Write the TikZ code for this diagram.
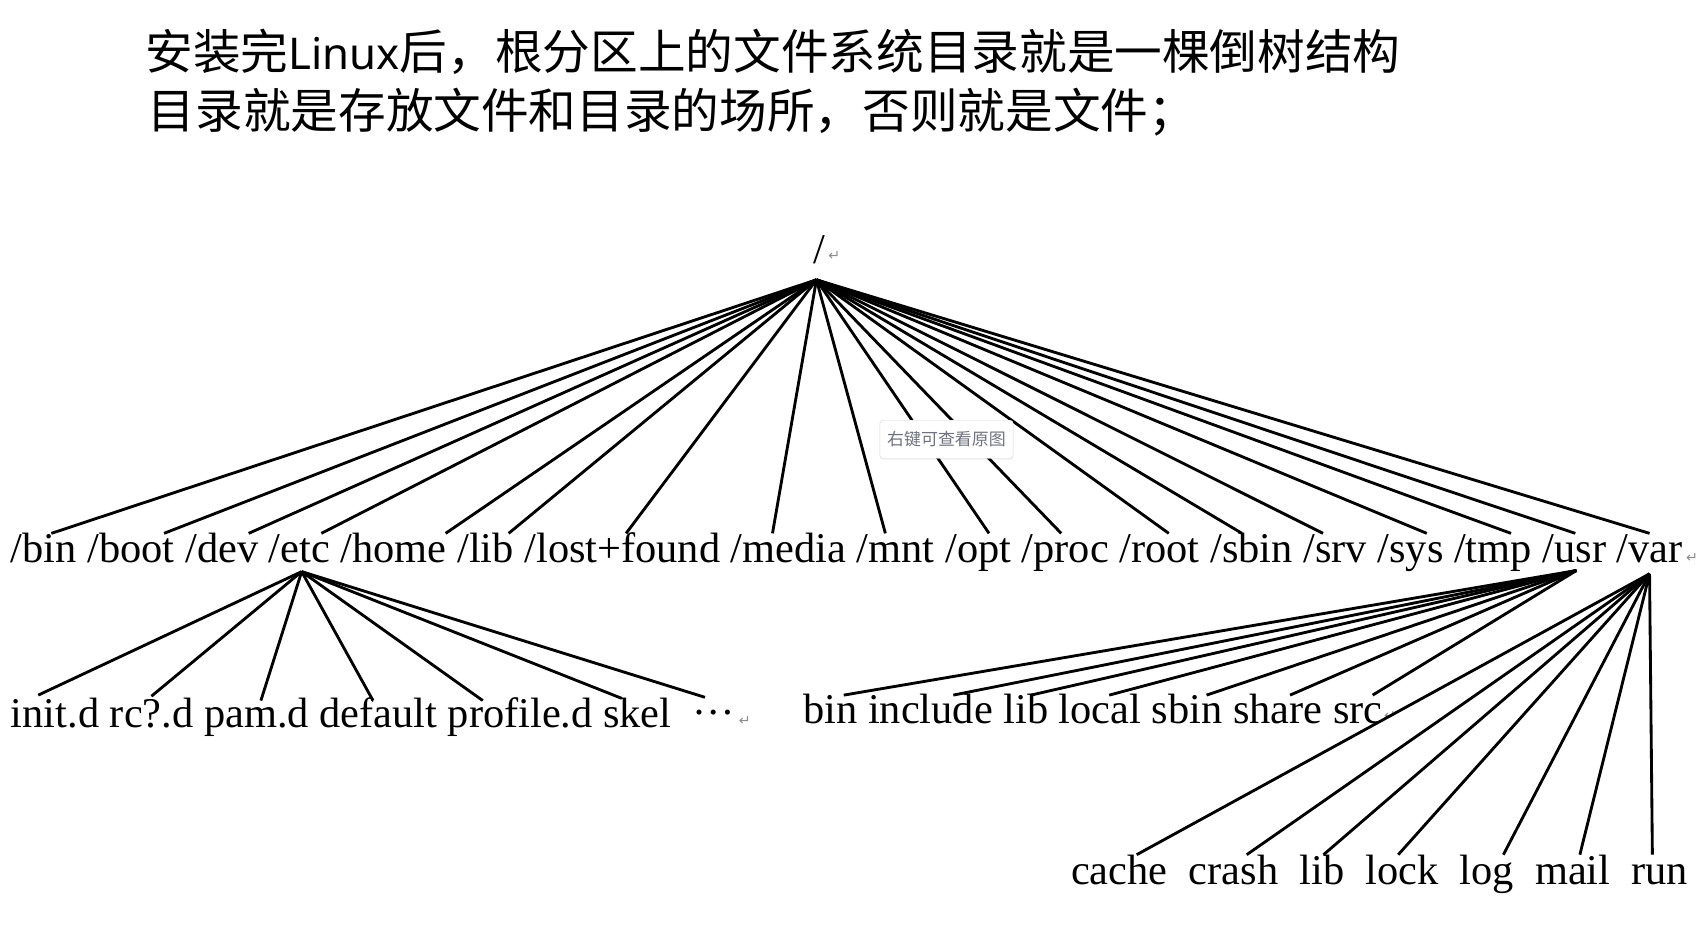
\documentclass[tikz,border=0pt]{standalone}
\usepackage{fontspec}
\setmainfont{Liberation Serif}
\newfontfamily\cjkfont{Noto Sans CJK SC}
\newfontfamily\latinsans{Noto Sans}
\newfontfamily\symfont{DejaVu Sans}
\usetikzlibrary{calc,shadows}
\definecolor{badgetext}{HTML}{70737F}
\definecolor{retgray}{HTML}{8C8C8C}
\begin{document}
\begin{tikzpicture}[x=1pt,y=-1pt,
  word/.style={inner sep=0pt, outer sep=0pt, anchor=base west,
    font=\fontsize{38.8}{44}\selectfont, text height=27pt, text depth=9pt},
  branch/.style={line width=2.6pt},
  retmark/.style={inner sep=0pt, anchor=base west, text=retgray,
    font=\symfont\fontsize{13}{15}\selectfont},
  head/.style={inner sep=0pt, anchor=base west,
    font=\cjkfont\fontsize{43.6}{50}\selectfont},
  badge/.style={draw=gray!30, fill=white, rounded corners=3pt,
    minimum width=122pt, minimum height=35pt, inner sep=0pt,
    text=badgetext, font=\cjkfont\fontsize{15.5}{18}\selectfont,
    drop shadow={opacity=0.12, shadow xshift=0pt, shadow yshift=-1pt}}]
\useasboundingbox (0,0) rectangle (1560,859);

% heading
\node[head] (h1) at (133,64) {安装完{\latinsans\fontsize{40}{50}\selectfont Linux}后，根分区上的文件系统目录就是一棵倒树结构};
\node[head] (h2) at (135,118) {目录就是存放文件和目录的场所，否则就是文件；};

% root
\node[word] (root) at (744,241) {/};
\node[retmark] (rootret) at ([shift={(3,-3)}]root.base east) {↵};
\coordinate (apex) at ([shift={(3,15)}]root.base west);

% top level
\node[word] (bin) at (10,515) {/bin};
\node[word] (boot) at ([xshift=9.7pt]bin.base east) {/boot};
\node[word] (dev) at ([xshift=9.7pt]boot.base east) {/dev};
\node[word] (etc) at ([xshift=9.7pt]dev.base east) {/etc};
\node[word] (home) at ([xshift=9.7pt]etc.base east) {/home};
\node[word] (lib) at ([xshift=9.7pt]home.base east) {/lib};
\node[word] (lostfound) at ([xshift=9.7pt]lib.base east) {/lost+found};
\node[word] (media) at ([xshift=9.7pt]lostfound.base east) {/media};
\node[word] (mnt) at ([xshift=9.7pt]media.base east) {/mnt};
\node[word] (opt) at ([xshift=9.7pt]mnt.base east) {/opt};
\node[word] (proc) at ([xshift=9.7pt]opt.base east) {/proc};
\node[word] (rootdir) at ([xshift=9.7pt]proc.base east) {/root};
\node[word] (sbin) at ([xshift=9.7pt]rootdir.base east) {/sbin};
\node[word] (srv) at ([xshift=9.7pt]sbin.base east) {/srv};
\node[word] (sys) at ([xshift=9.7pt]srv.base east) {/sys};
\node[word] (tmp) at ([xshift=9.7pt]sys.base east) {/tmp};
\node[word] (usr) at ([xshift=9.7pt]tmp.base east) {/usr};
\node[word] (var) at ([xshift=9.7pt]usr.base east) {/var};
\node[retmark] (varret) at ([xshift=3pt]var.base east) {↵};

\foreach \n/\d in {bin/37, boot/70, dev/58, etc/48, home/96, lib/47,
  lostfound/93, media/38, mnt/26, opt/40, proc/36, rootdir/45, sbin/29,
  srv/18, sys/45, tmp/52, usr/30, var/30}
  \draw[branch] (apex) -- ([xshift=\d pt]\n.north west);

% /etc children
\coordinate (etcb) at ([shift={(30,8)}]etc.base west);
\node[word] (initd) at (10,666) {init.d};
\node[word] (rcd) at ([xshift=9.7pt]initd.base east) {rc?.d};
\node[word] (pamd) at ([xshift=9.7pt]rcd.base east) {pam.d};
\node[word] (default) at ([xshift=9.7pt]pamd.base east) {default};
\node[word] (profiled) at ([xshift=9.7pt]default.base east) {profile.d};
\node[word] (skel) at ([xshift=9.7pt]profiled.base east) {skel};
\node[word] (dots) at (634,666) {\raisebox{12pt}{…}};
\node[retmark] (dotsret) at ([shift={(3,-2)}]dots.base east) {↵};

\foreach \n/\d/\e in {initd/25/-3, rcd/38/-2, pamd/52/2, default/49/2,
  profiled/32/2, skel/17/0, dots/11/-1}
  \draw[branch] (etcb) -- ([shift={(\d,\e)}]\n.north west);

% /usr children
\coordinate (usrb) at ([shift={(31,7)}]usr.base west);
\node[word] (ubin) at (735,662) {bin};
\node[word] (uinclude) at ([xshift=9.7pt]ubin.base east) {include};
\node[word] (ulib) at ([xshift=9.7pt]uinclude.base east) {lib};
\node[word] (ulocal) at ([xshift=9.7pt]ulib.base east) {local};
\node[word] (usbin) at ([xshift=9.7pt]ulocal.base east) {sbin};
\node[word] (ushare) at ([xshift=9.7pt]usbin.base east) {share};
\node[word] (usrc) at ([xshift=9.7pt]ushare.base east) {src};
\node[retmark] (usrcret) at ([shift={(1,-3)}]usrc.base east) {↵};

\foreach \n/\d in {ubin/37, uinclude/78, ulib/25, ulocal/46, usbin/50,
  ushare/52, usrc/36}
  \draw[branch] (usrb) -- ([shift={(\d,1)}]\n.north west);

% /var children
\coordinate (varb) at ([shift={(30,10)}]var.base west);
\node[word] (cache) at (980,809) {cache};
\node[word] (crash) at ([xshift=19.4pt]cache.base east) {crash};
\node[word] (vlib) at ([xshift=19.4pt]crash.base east) {lib};
\node[word] (lock) at ([xshift=19.4pt]vlib.base east) {lock};
\node[word] (log) at ([xshift=19.4pt]lock.base east) {log};
\node[word] (mail) at ([xshift=19.4pt]log.base east) {mail};
\node[word] (run) at ([xshift=19.4pt]mail.base east) {run};

\foreach \n/\d in {cache/60, crash/53, vlib/22, lock/30, log/40, mail/41, run/19}
  \draw[branch] (varb) -- ([xshift=\d pt]\n.north west);

% overlay badge
\node[badge] (hint) at (866,402) {右键可查看原图};
\end{tikzpicture}
\end{document}
